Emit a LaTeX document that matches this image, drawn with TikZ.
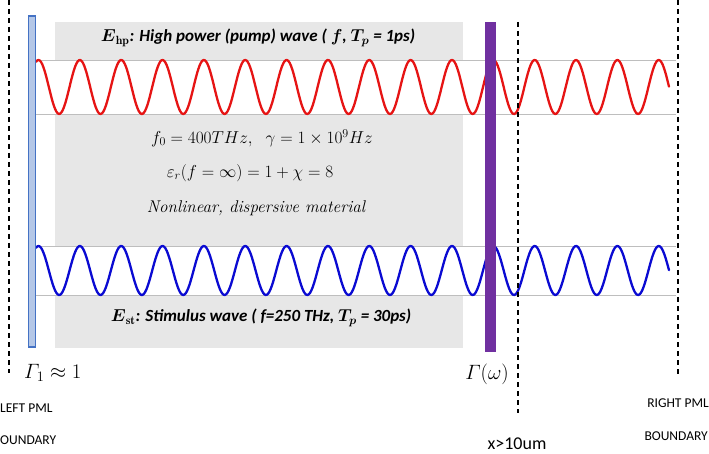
\documentclass[tikz,border=0pt]{standalone}
\usepackage{fontspec}
\usepackage{amsmath}
\newfontfamily\calfont{Carlito}
\definecolor{greybox}{RGB}{231,231,231}
\definecolor{bandline}{RGB}{190,190,190}
\definecolor{barblue}{RGB}{180,199,231}
\definecolor{barblueedge}{RGB}{68,114,196}
\definecolor{purplebar}{RGB}{112,48,160}
\definecolor{wavered}{RGB}{230,20,20}
\definecolor{waveblue}{RGB}{10,10,210}
\tikzset{
  x=1pt, y=-1pt,
  boundary/.style={black, line width=1.1pt, dash pattern=on 5pt off 4pt},
  bandedge/.style={bandline, line width=0.8pt},
  wavestyle/.style={line width=2.3pt, line join=round, line cap=round},
  headlabel/.style={inner sep=0pt, font=\calfont\bfseries\itshape\fontsize{17}{20}\selectfont},
  mathlabel/.style={inner sep=0pt, font=\fontsize{17}{20}\selectfont},
  gammalabel/.style={inner sep=0pt, font=\fontsize{21}{24}\selectfont},
  pmllabel/.style={inner sep=0pt, font=\calfont\fontsize{13.5}{16}\selectfont},
}
\begin{document}
\begin{tikzpicture}
\useasboundingbox (0,0) rectangle (709,454);
% grey material box
\fill[greybox] (55,22) rectangle (463,348);
% white bands of the wave plots
\fill[white] (35,60) rectangle (463,114);
\fill[white] (35,246) rectangle (463,295);
\draw[bandedge] (35,60) -- (676,60);
\draw[bandedge] (35,114) -- (676,114);
\draw[bandedge] (35,246) -- (676,246);
\draw[bandedge] (35,295) -- (676,295);
% waves
\draw[wavestyle, wavered] plot[domain=36:669, samples=500, smooth] (\x, {87-27*cos(((\x-38.5)/41.35)*360)});
\draw[wavestyle, waveblue] plot[domain=36:669, samples=500, smooth] (\x, {270.5-24.5*cos(((\x-38.5)/41.35)*360)});
% bars
\fill[purplebar] (485,22) rectangle (496,352);
\filldraw[fill=barblue, draw=barblueedge, line width=1.2pt] (28.5,16) rectangle (35.5,347);
% dashed boundaries
\coordinate (ltop) at (9,0);
\coordinate (lbot) at (9,373);
\coordinate (mtop) at (518,22);
\coordinate (mbot) at (518,413);
\coordinate (rtop) at (678,0);
\coordinate (rbot) at (678,377);
\draw[boundary] (ltop) -- (lbot);
\draw[boundary] (mtop) -- (mbot);
\draw[boundary] (rtop) -- (rbot);
% labels
\node[headlabel] (hp) at (258,38) {$\boldsymbol{E}_{\mathbf{hp}}$: High power (pump) wave ( $\boldsymbol{f}$, $\boldsymbol{T_p}$ = 1ps)};
\node[mathlabel] (f0) at (262,138) {$f_0 = 400THz,\ \ \gamma = 1\times 10^{9}Hz$};
\node[mathlabel] (eps) at (250,173) {$\varepsilon_r(f=\infty) = 1+\chi = 8$};
\node[mathlabel, font=\itshape\fontsize{17}{20}\selectfont] (nl) at (256,208) {Nonlinear, dispersive material};
\node[headlabel] (st) at (261,318) {$\boldsymbol{E}_{\mathbf{st}}$: Stimulus wave ( f=250 THz, $\boldsymbol{T_p}$ = 30ps)};
\node[gammalabel, anchor=west] (g1) at (24,373) {$\varGamma_1 \approx 1$};
\node[gammalabel] (gw) at (487,374) {$\varGamma(\omega)$};
\node[pmllabel, anchor=west] (lpml) at (0,408) {LEFT PML};
\node[pmllabel, anchor=west] (lbnd) at (0,440) {OUNDARY};
\node[pmllabel, anchor=east] (rpml) at (709,403) {RIGHT PML};
\node[pmllabel, anchor=east] (rbnd) at (708,436) {BOUNDARY};
\node[pmllabel, font=\calfont\fontsize{18}{21}\selectfont] (xdist) at (517,444) {x>10um};
\end{tikzpicture}
\end{document}
